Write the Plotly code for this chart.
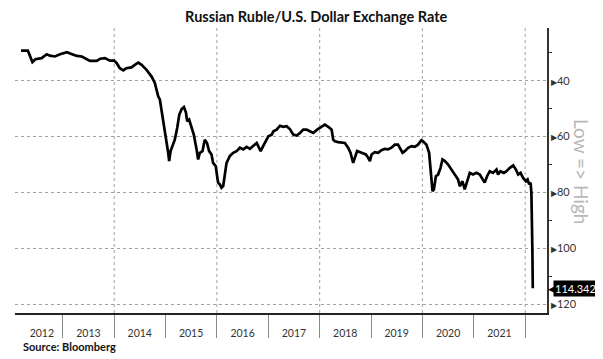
import plotly.graph_objects as go
from datetime import date

dates = [
    "2012-03-10", "2012-04-27", "2012-05-30", "2012-06-20", "2012-08-03", "2012-09-09", "2012-10-01",
    "2012-11-06", "2012-12-12", "2013-01-30", "2013-03-08", "2013-04-10", "2013-05-16", "2013-06-21",
    "2013-07-13", "2013-08-30", "2013-09-24", "2013-10-27", "2013-12-02", "2014-01-01", "2014-01-19",
    "2014-02-10", "2014-03-07", "2014-03-28", "2014-05-04", "2014-05-28", "2014-06-21", "2014-07-15",
    "2014-08-19", "2014-09-24", "2014-10-17", "2014-10-29", "2014-11-10", "2014-11-22", "2014-12-04",
    "2014-12-15", "2014-12-22", "2015-01-02", "2015-01-09", "2015-01-20", "2015-01-27", "2015-02-06",
    "2015-02-21", "2015-03-08", "2015-03-25", "2015-04-09", "2015-04-26", "2015-05-12", "2015-05-26",
    "2015-06-04", "2015-06-18", "2015-07-05", "2015-07-21", "2015-08-10", "2015-08-21", "2015-09-02",
    "2015-09-21", "2015-10-07", "2015-10-23", "2015-11-07", "2015-11-24", "2015-12-05", "2015-12-24",
    "2016-01-03", "2016-01-10", "2016-01-22", "2016-02-03", "2016-02-15", "2016-02-26", "2016-03-10",
    "2016-04-02", "2016-04-26", "2016-05-20", "2016-06-13", "2016-07-07", "2016-07-31", "2016-08-23",
    "2016-09-16", "2016-10-10", "2016-10-21", "2016-11-07", "2016-11-25", "2016-12-14", "2017-01-01",
    "2017-01-25", "2017-02-06", "2017-03-01", "2017-03-25", "2017-04-17", "2017-05-11", "2017-06-03",
    "2017-06-27", "2017-07-21", "2017-08-14", "2017-09-06", "2017-09-30", "2017-10-23", "2017-11-16",
    "2017-12-14", "2018-01-15", "2018-02-07", "2018-03-03", "2018-03-27", "2018-04-07", "2018-04-19",
    "2018-05-12", "2018-06-06", "2018-06-29", "2018-07-22", "2018-08-08", "2018-08-27", "2018-09-08",
    "2018-09-24", "2018-10-26", "2018-11-25", "2018-12-12", "2018-12-24", "2019-01-05", "2019-01-28",
    "2019-02-21", "2019-03-16", "2019-04-09", "2019-05-02", "2019-05-26", "2019-06-19", "2019-07-12",
    "2019-07-24", "2019-08-13", "2019-08-29", "2019-09-22", "2019-10-16", "2019-11-08", "2019-12-01",
    "2019-12-25", "2020-01-06", "2020-01-30", "2020-02-18", "2020-02-28", "2020-03-06", "2020-03-13",
    "2020-03-23", "2020-04-06", "2020-04-22", "2020-05-09", "2020-05-23", "2020-06-09", "2020-07-02",
    "2020-07-26", "2020-08-18", "2020-09-11", "2020-09-23", "2020-10-12", "2020-10-28", "2020-11-14",
    "2020-12-03", "2020-12-26", "2021-01-19", "2021-02-12", "2021-03-07", "2021-03-19", "2021-04-05",
    "2021-04-24", "2021-05-17", "2021-06-11", "2021-06-22", "2021-07-09", "2021-08-02", "2021-08-21",
    "2021-09-14", "2021-10-08", "2021-10-27", "2021-11-12", "2021-11-29", "2021-12-17", "2022-01-06",
    "2022-01-18", "2022-01-29", "2022-02-08", "2022-02-14", "2022-02-18", "2022-02-21", "2022-02-24",
]
rates = [
    29.2, 29.2, 33.3, 32.3, 31.9, 30.5, 31.0,
    31.3, 30.5, 29.8, 30.5, 31.1, 31.3, 32.3,
    32.9, 32.9, 32.1, 31.9, 32.8, 32.8, 33.7,
    35.5, 36.3, 35.5, 35.2, 34.3, 33.5, 34.3,
    36.1, 38.5, 40.8, 43.2, 45.6, 46.8, 50.4,
    53.3, 56.3, 59.3, 62.3, 65.8, 68.8, 65.2,
    63.4, 61.1, 56.9, 52.1, 50.1, 49.4, 51.3,
    54.5, 53.9, 56.3, 59.3, 64.6, 68.2, 65.8,
    65.2, 61.1, 62.3, 65.2, 66.4, 69.4, 70.6,
    74.2, 76.5, 77.1, 78.3, 77.7, 73.6, 69.4,
    67.0, 65.8, 65.2, 64.0, 64.6, 63.7, 64.4,
    63.2, 62.3, 63.4, 65.2, 63.4, 61.7, 59.9,
    59.3, 58.1, 57.5, 56.1, 56.5, 56.3, 57.3,
    59.3, 59.6, 58.7, 57.5, 57.5, 58.1, 58.7,
    57.5, 56.3, 55.7, 56.5, 57.5, 61.1, 61.7,
    62.0, 62.3, 62.3, 64.0, 65.8, 69.4, 67.6,
    65.2, 65.8, 66.4, 67.6, 68.8, 66.4, 65.6,
    65.8, 64.9, 64.4, 64.6, 64.0, 62.9, 62.9,
    64.0, 65.8, 65.2, 64.0, 63.4, 63.7, 62.9,
    61.3, 61.7, 62.9, 65.8, 70.6, 75.4, 79.5,
    78.9, 74.2, 73.6, 71.2, 68.2, 68.8, 70.0,
    71.8, 73.6, 75.4, 77.8, 76.0, 78.9, 76.0,
    73.0, 73.6, 73.0, 73.6, 75.4, 76.5, 74.2,
    72.4, 73.0, 71.8, 73.6, 72.4, 73.0, 72.4,
    71.2, 70.3, 71.8, 73.6, 73.0, 74.8, 76.0,
    75.4, 77.1, 76.5, 80.1, 88.5, 100.4, 114.3427,
]
years = list(range(2012, 2022))
y_major = [40, 60, 80, 100, 120]
y_minor = [30, 50, 70, 90, 110]
grid_years = [2014, 2016, 2018, 2020, 2022]
x_range = ["2012-01-27", "2022-06-05"]
y_range = [123.2, 21.1]

# label positions: middle of each year's visible span
first = date.fromisoformat(dates[0])
label_pos = []
for yr in years:
    a = max(date(yr, 1, 1), first)
    b = date(yr + 1, 1, 1)
    label_pos.append((a + (b - a) / 2).isoformat())

font_fam = "Lato, 'Open Sans', sans-serif"

fig = go.Figure()
fig.add_trace(go.Scatter(
    x=dates, y=rates, mode="lines",
    line=dict(color="black", width=2.7),
    hoverinfo="x+y", showlegend=False,
))

for gy in grid_years:
    fig.add_shape(type="line", xref="x", yref="paper",
                  x0=f"{gy}-01-01", x1=f"{gy}-01-01", y0=0, y1=1,
                  line=dict(color="#a0a0a0", width=1, dash="dot"), layer="below")

# the page adds an 8px body margin, so the figure is sized to fit inside the window
fig.update_layout(
    width=595, height=351,
    margin=dict(l=7, r=56, t=20, b=46),
    paper_bgcolor="white", plot_bgcolor="white",
    font=dict(family=font_fam, color="#333333"),
    title=dict(text="<b>Russian Ruble/U.S. Dollar Exchange Rate</b>",
               x=0.518, xanchor="center", y=0.974, yanchor="middle",
               font=dict(size=14.5, color="#111111", family=font_fam)),
)
fig.update_xaxes(
    type="date", range=x_range,
    tickmode="array", tickvals=label_pos, ticktext=[str(y) for y in years],
    ticks="", ticklabelstandoff=10,
    tickfont=dict(size=10.5, color="#333333"),
    showgrid=False, zeroline=False,
    showline=True, linecolor="#222222", linewidth=1.5,
    minor=dict(dtick="M12", tick0="2012-01-01", ticks="outside", ticklen=23,
               tickcolor="#8a8a8a", tickwidth=1, showgrid=False),
)
fig.update_yaxes(
    side="right", range=y_range,
    tickmode="array", tickvals=y_major,
    ticktext=[f'<span style="font-size:8px">▶</span>{v}' for v in y_major],
    ticks="", tickfont=dict(size=11, color="#333333"),
    showgrid=True, gridcolor="#a0a0a0", griddash="dot", gridwidth=1,
    zeroline=False, showline=True, linecolor="#333333", linewidth=1.5,
    minor=dict(tickvals=y_minor, ticks="outside", ticklen=3, tickcolor="#333333",
               tickwidth=1, showgrid=False),
)

fig.add_annotation(xref="paper", yref="y", x=1.0, y=rates[-1], xanchor="left",
                   text="◀", showarrow=False, font=dict(size=9, color="black"), xshift=-1)
fig.add_annotation(xref="paper", yref="y", x=1.0, y=rates[-1], xanchor="left",
                   text=f"{rates[-1]:.4f}", showarrow=False, bgcolor="black",
                   font=dict(size=11, color="white"), xshift=6, borderpad=1)
fig.add_annotation(xref="paper", yref="paper", x=1.066, y=0.498, xanchor="center",
                   yanchor="middle", text="Low => High",
                   textangle=90, showarrow=False,
                   font=dict(size=19, color="#b8b8b8", family=font_fam))
fig.add_annotation(xref="paper", yref="paper", x=0.011, y=-0.116, xanchor="left",
                   yanchor="middle", text="<b>Source: Bloomberg</b>", showarrow=False,
                   font=dict(size=11, color="#111111", family=font_fam))

fig.write_html("out.html")
